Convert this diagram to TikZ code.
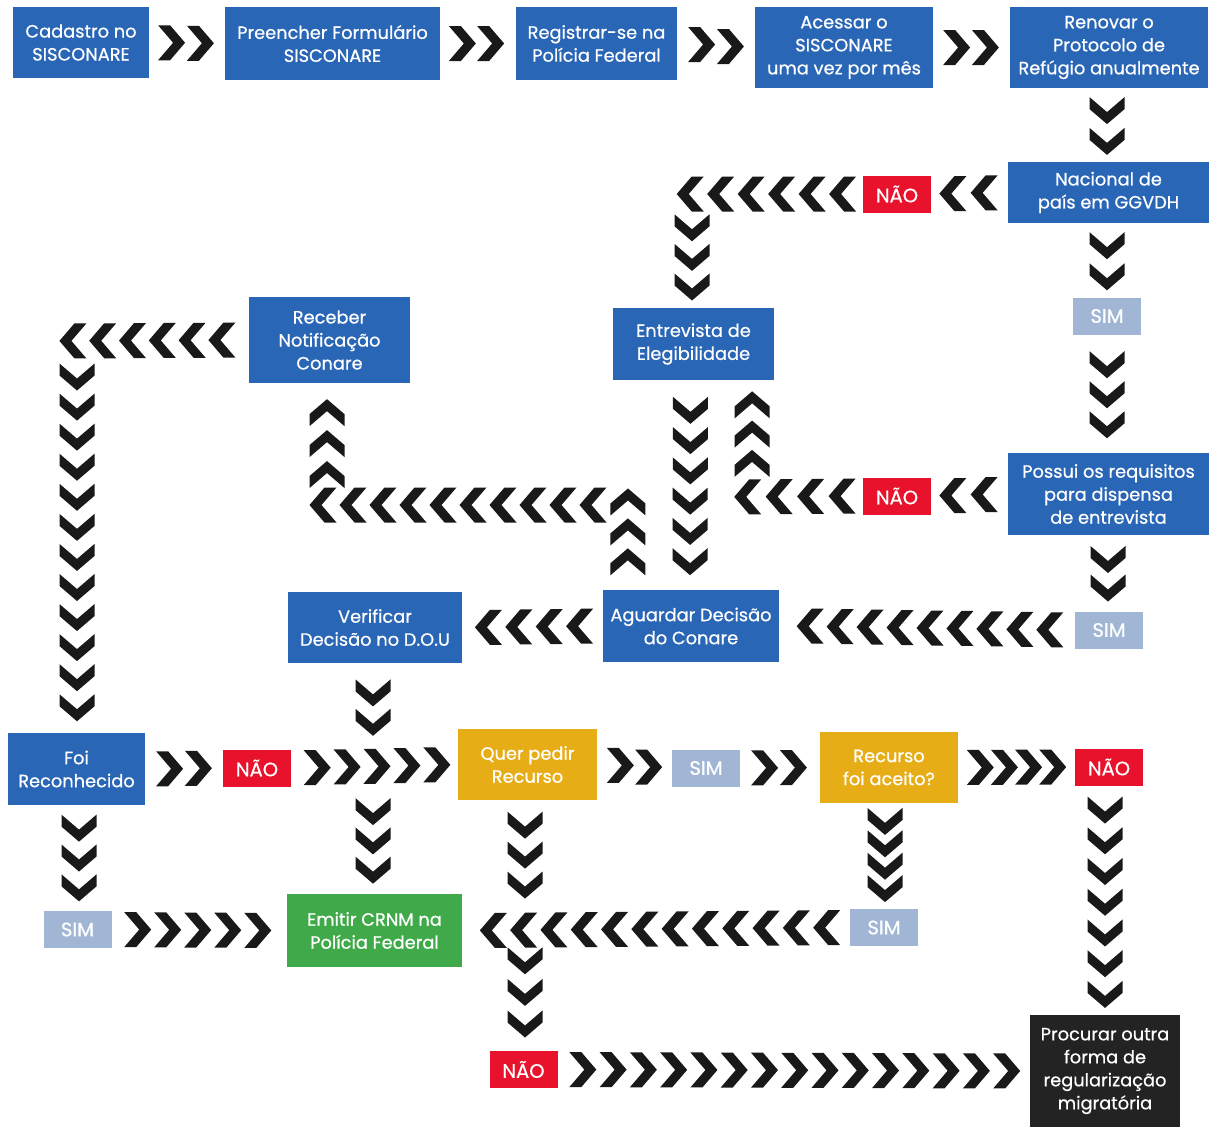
\documentclass[tikz,border=0pt]{standalone}
\usepackage{fontspec}
\setmainfont{Poppins}[FakeBold=0.6]
\usetikzlibrary{calc}
\definecolor{cblue}{RGB}{42,102,182}
\definecolor{cred}{RGB}{232,18,44}
\definecolor{csim}{RGB}{160,182,212}
\definecolor{cyel}{RGB}{231,173,22}
\definecolor{cgreen}{RGB}{64,170,74}
\definecolor{cdark}{RGB}{35,35,35}
\definecolor{cchev}{RGB}{25,25,25}
\tikzset{
  bx/.style 2 args={minimum width=#1pt, minimum height=#2pt, inner sep=0pt, align=center, text=white,
    font=\fontsize{17.8}{23}\selectfont},
  bluebox/.style={fill=cblue},
  yelbox/.style={fill=cyel},
  greenbox/.style={fill=cgreen},
  darkbox/.style={fill=cdark},
  nao/.style={fill=cred, minimum width=68pt, minimum height=37pt, inner sep=0pt, text=white,
    font=\fontsize{19.5}{22}\selectfont},
  sim/.style={fill=csim, minimum width=68pt, minimum height=37pt, inner sep=0pt, text=white,
    font=\fontsize{19.5}{22}\selectfont},
  chevshape/.style={fill=cchev}
}
% #1 angle, #2 count, #3 start, #4 end
\newcommand\chevs[4]{%
  \foreach \i in {1,...,#2}{%
    \path ($(#3)!{(\i-0.5)/#2}!(#4)$) coordinate (cv);
    \fill[chevshape, shift={(cv)}, rotate=#1]
      (-13.5,-17.5) -- (-1.5,-17.5) -- (13.5,0) -- (-1.5,17.5) -- (-13.5,17.5) -- (1.5,0) -- cycle;
  }%
}
\begin{document}
\begin{tikzpicture}[x=1pt,y=-1pt]
\useasboundingbox[fill=white] (0,0) rectangle (1209,1127);

% boxes
\node[bx={136}{71}, bluebox] (b1) at (81,42.5) {Cadastro no\\SISCONARE};
\node[bx={215}{73}, bluebox] (b2) at (332.5,43.5) {Preencher Formulário\\SISCONARE};
\node[bx={161}{73}, bluebox] (b3) at (596.5,43.5) {Registrar-se na\\Polícia Federal};
\node[bx={178}{81}, bluebox] (b4) at (844,47.5) {Acessar o\\SISCONARE\\uma vez por mês};
\node[bx={198}{81}, bluebox] (b5) at (1109,47.5) {Renovar o\\Protocolo de\\Refúgio anualmente};
\node[bx={201}{61}, bluebox] (b6) at (1108.5,192.5) {Nacional de\\país em GGVDH};
\node[sim] (s1) at (1107,316) {SIM};
\node[bx={201}{82}, bluebox] (b7) at (1108.5,494) {Possui os requisitos\\para dispensa\\de entrevista};
\node[nao] (n1) at (897,194) {NÃO};
\node[nao] (n2) at (897,496) {NÃO};
\node[bx={161}{72}, bluebox] (b8) at (693.5,344) {Entrevista de\\Elegibilidade};
\node[bx={161}{86}, bluebox] (b9) at (329.5,340) {Receber\\Notificação\\Conare};
\node[bx={176}{72}, bluebox] (b10) at (691,626) {Aguardar Decisão\\do Conare};
\node[sim] (s2) at (1109,630) {SIM};
\node[bx={174}{71}, bluebox] (b11) at (375,627.5) {Verificar\\Decisão no D.O.U};
\node[bx={137}{72}, bluebox] (b12) at (76.5,769) {Foi\\Reconhecido};
\node[nao] (n3) at (257,768) {NÃO};
\node[bx={139}{71}, yelbox] (b13) at (527.5,764.5) {Quer pedir\\Recurso};
\node[sim] (s3) at (706,768) {SIM};
\node[bx={138}{71}, yelbox] (b14) at (889,767.5) {Recurso\\foi aceito?};
\node[nao] (n4) at (1109,767) {NÃO};
\node[sim] (s4) at (77.5,929.5) {SIM};
\node[bx={175}{73}, greenbox] (b15) at (374.5,930.5) {Emitir CRNM na\\Polícia Federal};
\node[sim] (s5) at (884,927.5) {SIM};
\node[nao] (n5) at (523.5,1069.5) {NÃO};
\node[bx={150}{112}, darkbox] (b16) at (1105,1071) {Procurar outra\\forma de\\regularização\\migratória};

% corner / junction coordinates
\coordinate (k1) at (692,194);
\coordinate (k2) at (752,497);
\coordinate (k3) at (628,505);
\coordinate (k4) at (327,505);
\coordinate (k5) at (373,768);
\coordinate (k6) at (77,341);
\coordinate (k7) at (525,928);

% helper coordinates for chain ends
\path ($(b1.east)+(8,0)$) coordinate (c1s) ($(b2.west)+(-10,0)$) coordinate (c1e);
\path ($(b2.east)+(8,0)$) coordinate (c2s) ($(b3.west)+(-11,0)$) coordinate (c2e);
\path ($(b3.east)+(10,0)$) coordinate (c3s) ($(b4.west)+(-10,0)$) coordinate (c3e);
\path ($(b4.east)+(9,0)$) coordinate (c4s) ($(b5.west)+(-10,0)$) coordinate (c4e);
\path ($(b5.south)+(-2,7)$) coordinate (c5s) ($(b6.north)+(-1.5,-5)$) coordinate (c5e);
\path ($(b6.south)+(-1.5,7)$) coordinate (c6s) ($(s1.north)+(0,-5)$) coordinate (c6e);
\path ($(s1.south)+(0,15)$) coordinate (c7s) ($(b7.north)+(-1.5,-13)$) coordinate (c7e);
\path ($(b6.west)+(-8,0)$) coordinate (c8s) ($(n1.east)+(6,0)$) coordinate (c8e);
\path ($(n1.west)+(-5,0)$) coordinate (c9s) ($(k1)+(-17,0)$) coordinate (c9e);
\path ($(k1)+(0,19)$) coordinate (c10s) ($(b8.north)+(-1.5,-6)$) coordinate (c10e);
\path ($(b7.west)+(-8,0)$) coordinate (c11s) ($(n2.east)+(6,0)$) coordinate (c11e);
\path ($(n2.west)+(-5,0)$) coordinate (c12s) ($(k2)+(-20,0)$) coordinate (c12e);
\path ($(k2)+(0,-19)$) coordinate (c13s) ($(b8.south east)+(-22,10)$) coordinate (c13e);
\path ($(b8.south)+(-3,15)$) coordinate (c14s) ($(b10.north)+(-1,-13)$) coordinate (c14e);
\path ($(b7.south)+(-0.5,10)$) coordinate (c15s) ($(s2.north)+(-1,-9)$) coordinate (c15e);
\path ($(s2.west)+(-10,0)$) coordinate (c16s) ($(b10.east)+(16,0)$) coordinate (c16e);
\path ($(b10.north west)+(25,-13)$) coordinate (c17s) ($(k3)+(0,-18)$) coordinate (c17e);
\path ($(k3)+(-20,0)$) coordinate (c18s) ($(k4)+(-19,0)$) coordinate (c18e);
\path ($(k4)+(0,-15)$) coordinate (c19s) ($(b9.south)+(-2.5,14)$) coordinate (c19e);
\path ($(b10.west)+(-8,0)$) coordinate (c20s) ($(b11.east)+(11,0)$) coordinate (c20e);
\path ($(b11.south)+(-2,15)$) coordinate (c21s) ($(k5)+(0,-31)$) coordinate (c21e);
\path ($(b12.east)+(10,0)$) coordinate (c22s) ($(n3.west)+(-10,0)$) coordinate (c22e);
\path ($(n3.east)+(11,0)$) coordinate (c23s) ($(b13.west)+(-6,0)$) coordinate (c23e);
\path ($(k5)+(0,29)$) coordinate (c24s) ($(b15.north)+(-1.5,-9)$) coordinate (c24e);
\path ($(b12.south)+(2.5,8)$) coordinate (c25s) ($(s4.north)+(1.5,-8)$) coordinate (c25e);
\path ($(s4.east)+(11,0)$) coordinate (c26s) ($(b15.west)+(-14,0)$) coordinate (c26e);
\path ($(b9.west)+(-12,0)$) coordinate (c27s) ($(k6)+(-19,0)$) coordinate (c27e);
\path ($(k6)+(0,21)$) coordinate (c28s) ($(b12.north)+(0.5,-10)$) coordinate (c28e);
\path ($(b13.east)+(9,0)$) coordinate (c29s) ($(s3.west)+(-9,0)$) coordinate (c29e);
\path ($(s3.east)+(10,0)$) coordinate (c30s) ($(b14.west)+(-12,0)$) coordinate (c30e);
\path ($(b14.east)+(10,0)$) coordinate (c31s) ($(n4.west)+(-10,0)$) coordinate (c31e);
\path ($(n4.south)+(-4,9)$) coordinate (c32s) ($(b16.north)+(0,-5)$) coordinate (c32e);
\path ($(b14.south)+(-4,7)$) coordinate (c33s) ($(s5.north)+(1,-9)$) coordinate (c33e);
\path ($(s5.west)+(-8,0)$) coordinate (c34s) ($(b15.east)+(16,0)$) coordinate (c34e);
\path ($(b13.south)+(-2.5,10)$) coordinate (c35s) ($(k7)+(0,-28)$) coordinate (c35e);
\path ($(k7)+(0,17)$) coordinate (c36s) ($(n5.north)+(1.5,-11)$) coordinate (c36e);
\path ($(n5.east)+(10,0)$) coordinate (c37s) ($(b16.west)+(-8,0)$) coordinate (c37e);

% chevron connectors (angle: 0 right, 180 left, -90 down, 90 up)
\chevs{0}{2}{c1s}{c1e}
\chevs{0}{2}{c2s}{c2e}
\chevs{0}{2}{c3s}{c3e}
\chevs{0}{2}{c4s}{c4e}
\chevs{-90}{2}{c5s}{c5e}
\chevs{-90}{2}{c6s}{c6e}
\chevs{-90}{3}{c7s}{c7e}
\chevs{180}{2}{c8s}{c8e}
\chevs{180}{6}{c9s}{c9e}
\chevs{-90}{3}{c10s}{c10e}
\chevs{180}{2}{c11s}{c11e}
\chevs{180}{4}{c12s}{c12e}
\chevs{90}{3}{c13s}{c13e}
\chevs{-90}{6}{c14s}{c14e}
\chevs{-90}{2}{c15s}{c15e}
\chevs{180}{9}{c16s}{c16e}
\chevs{90}{3}{c17s}{c17e}
\chevs{180}{10}{c18s}{c18e}
\chevs{90}{3}{c19s}{c19e}
\chevs{180}{4}{c20s}{c20e}
\chevs{-90}{2}{c21s}{c21e}
\chevs{0}{2}{c22s}{c22e}
\chevs{0}{5}{c23s}{c23e}
\chevs{-90}{3}{c24s}{c24e}
\chevs{-90}{3}{c25s}{c25e}
\chevs{0}{5}{c26s}{c26e}
\chevs{180}{6}{c27s}{c27e}
\chevs{-90}{12}{c28s}{c28e}
\chevs{0}{2}{c29s}{c29e}
\chevs{0}{2}{c30s}{c30e}
\chevs{0}{4}{c31s}{c31e}
\chevs{-90}{7}{c32s}{c32e}
\chevs{-90}{4}{c33s}{c33e}
\chevs{180}{12}{c34s}{c34e}
\chevs{-90}{3}{c35s}{c35e}
\chevs{-90}{3}{c36s}{c36e}
\chevs{0}{15}{c37s}{c37e}
\end{tikzpicture}
\end{document}
